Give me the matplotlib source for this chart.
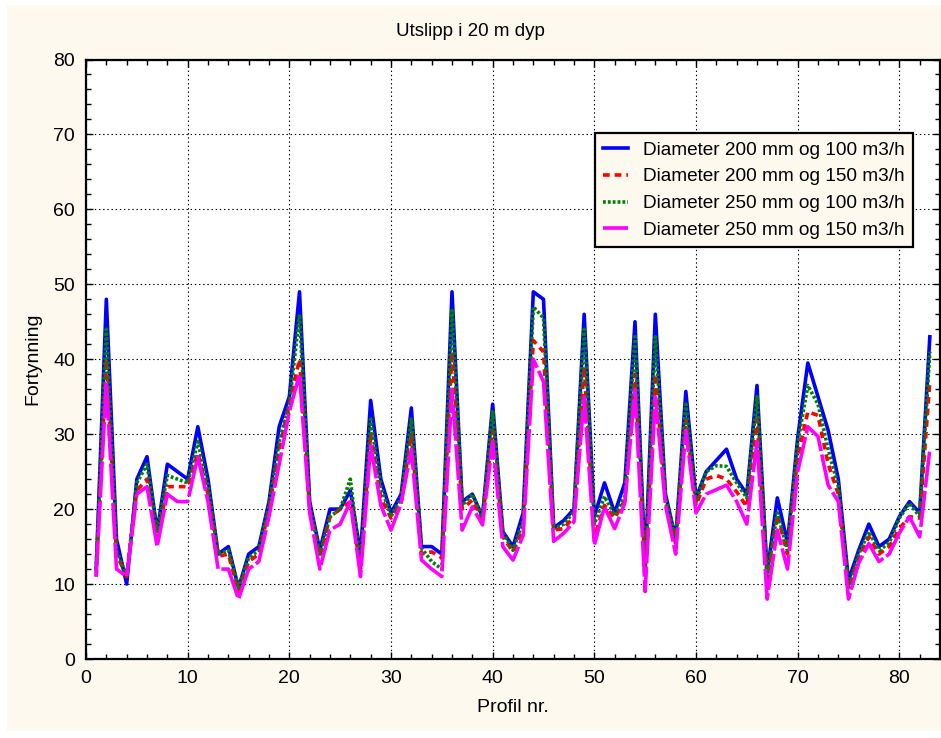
from __future__ import annotations

import matplotlib

matplotlib.use("Agg")

import matplotlib.pyplot as plt
from matplotlib.patches import Rectangle

plt.rcParams["font.family"] = ["Liberation Sans", "DejaVu Sans"]
plt.rcParams["lines.scale_dashes"] = False

BEIGE = "#fdf9ee"

profil = list(range(1, 84))

d200_q100 = [
    12, 48, 16, 10, 24, 27, 17, 26, 25, 24,
    31, 24, 14, 15, 9.5, 14, 15, 21, 31, 35,
    49, 21, 14.5, 20, 20, 22.5, 14, 34.5, 24, 19.5,
    22, 33.5, 15, 15, 14, 49, 21, 22, 19, 34,
    17, 15, 19.5, 49, 48, 17.5, 18.5, 20, 46, 19,
    23.5, 19.5, 23.5, 45, 12.5, 46, 22, 16, 35.7, 21.5,
    25, 26.5, 28, 24, 22, 36.5, 11.5, 21.5, 15.5, 29.5,
    39.5, 35, 30.5, 24, 10.5, 14.5, 18, 15, 16, 19,
    21, 19.5, 43,
]

d200_q150 = [
    11, 40, 14, 11, 22.5, 24, 16, 23, 23, 23,
    27.5, 22, 13.7, 14, 9, 13, 14, 20, 28, 34,
    40, 20, 13.7, 19, 20, 21, 12, 30, 21.5, 18.8,
    21, 30, 14, 14.3, 13.5, 41, 20, 21.2, 18.6, 30.5,
    16.3, 14.3, 17.5, 42.5, 41, 17.2, 17.4, 19, 39, 16.3,
    20.5, 18.8, 21.2, 38, 12, 38, 21, 15.4, 32, 20.5,
    24, 24.5, 24, 22.3, 20.3, 32, 10.5, 19.2, 14, 27,
    33, 32.5, 26, 22, 9.5, 13.5, 16.3, 14, 15, 17.4,
    19, 18.8, 37,
]

d250_q100 = [
    12, 44, 14.5, 11, 23.5, 26, 17, 24.5, 24, 23.5,
    29, 23, 14, 14.5, 9.5, 13.5, 14.5, 20.5, 29, 34,
    46, 20.5, 14, 19, 20, 24, 12.5, 32, 23, 19,
    21.5, 32, 14.8, 13, 12, 46.5, 20.5, 22, 18.8, 33,
    16.8, 14.5, 18.5, 47, 45.5, 17.4, 18, 19.7, 44, 18,
    21.7, 19.2, 21.7, 43, 11.5, 43, 21.5, 16, 34, 21,
    25, 25.8, 25.7, 23.5, 21.5, 35, 11, 19.5, 14.5, 28.8,
    36.5, 34, 28, 23, 9.5, 14, 17, 14.5, 15.5, 18.8,
    20.8, 19, 41,
]

d250_q150 = [
    11, 37, 12, 11, 22, 23, 15, 22, 21, 21,
    27, 21, 12, 12, 8, 12, 13, 19, 26, 33,
    38, 19.5, 12, 17.2, 18, 21, 11, 28.5, 20.5, 17.2,
    20.8, 28, 13.2, 12, 11, 36, 17.2, 20.3, 17.9, 29,
    15, 13.2, 16.5, 40, 37, 15.7, 16.8, 18.3, 35, 15.2,
    20.3, 17.4, 20.8, 36, 9, 35, 20.5, 14, 30.5, 19.5,
    22, 22.6, 23.2, 21, 18, 29, 8, 17.2, 12, 25,
    31, 29.7, 23.2, 21, 8, 12.8, 15.4, 13, 14, 16.8,
    19, 16.3, 28,
]

series_labels = [
    "Diameter 200 mm og 100 m3/h",
    "Diameter 200 mm og 150 m3/h",
    "Diameter 250 mm og 100 m3/h",
    "Diameter 250 mm og 150 m3/h",
]


def plot_fortynning(output_file: str = "out.png") -> None:
    """Tegner fortynning langs profilene for 20 m dyp."""

    figure = plt.figure(
        figsize=(9.41, 7.38),
        dpi=100,
    )
    figure.patch.set_facecolor("white")

    # beige bakgrunnsflate som i originalen
    figure.patches.append(
        Rectangle(
            (7 / 941, 1 - 731 / 738),
            1 - 7 / 941,
            (731 - 5) / 738,
            transform=figure.transFigure,
            facecolor=BEIGE,
            edgecolor="none",
            zorder=-10,
        )
    )

    axis = figure.add_axes(
        [86 / 941, 1 - 659 / 738, (940 - 86) / 941, (659 - 59.5) / 738]
    )
    axis.set_facecolor("white")

    styles = [
        dict(color="#0000ff", linestyle="-"),
        dict(color="#ff0000", dashes=(4.8, 3.6)),
        dict(color="#008000", dashes=(2.0, 1.5)),
        dict(color="#ff00ff", dashes=(26, 2.5)),
    ]
    all_series = [d200_q100, d200_q150, d250_q100, d250_q150]

    for values, label, style in zip(all_series, series_labels, styles):
        axis.plot(
            profil,
            values,
            label=label,
            linewidth=2.6,
            **style,
        )

    axis.set_xlim(0, 84)
    axis.set_ylim(0, 80)
    axis.set_xticks(range(0, 81, 10))
    axis.set_xticks(range(0, 85, 2), minor=True)
    axis.set_yticks(range(0, 81, 10))
    axis.set_yticks(range(0, 81, 2), minor=True)

    axis.tick_params(
        which="both",
        direction="in",
        top=True,
        right=True,
        labelsize=14,
        width=1,
        color="black",
    )
    axis.tick_params(which="major", length=5, pad=8)
    axis.tick_params(which="minor", length=3.5)

    axis.grid(
        True,
        which="major",
        color="black",
        linestyle=(0, (1, 2)),
        linewidth=0.8,
    )

    for spine in axis.spines.values():
        spine.set_linewidth(1.6)
        spine.set_color("black")

    legend = axis.legend(
        loc="upper left",
        bbox_to_anchor=(0.596, 0.877),
        borderaxespad=0,
        fontsize=13.7,
        handlelength=1.3,
        handletextpad=0.8,
        labelspacing=0.5,
        borderpad=0.42,
        fancybox=False,
        framealpha=1,
    )
    legend.get_frame().set_facecolor(BEIGE)
    legend.get_frame().set_edgecolor("black")
    legend.get_frame().set_linewidth(1.6)

    figure.text(
        0.5,
        1 - 32 / 738,
        "Utslipp i 20 m dyp",
        ha="center",
        va="center",
        fontsize=13.5,
    )
    figure.text(
        513 / 941,
        1 - 707 / 738,
        "Profil nr.",
        ha="center",
        va="center",
        fontsize=14,
    )
    figure.text(
        33 / 941,
        1 - 359 / 738,
        "Fortynning",
        ha="center",
        va="center",
        rotation=90,
        fontsize=14,
    )

    figure.savefig(output_file, dpi=100)
    plt.close(figure)


if __name__ == "__main__":
    plot_fortynning()
